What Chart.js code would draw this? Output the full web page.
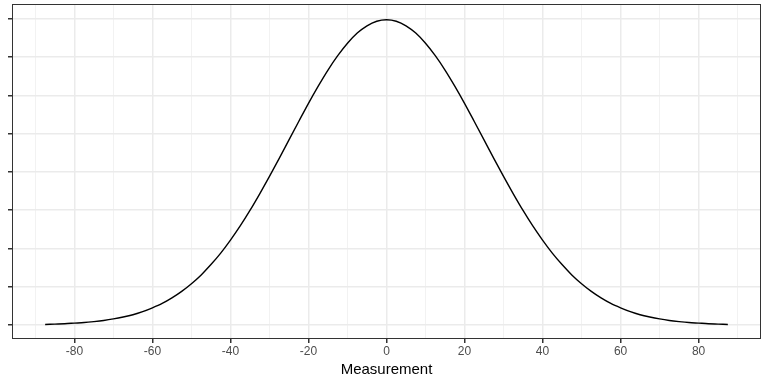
<!DOCTYPE html>
<html>
<head>
<meta charset="utf-8">
<script src="https://cdn.jsdelivr.net/npm/chart.js@4/dist/chart.umd.min.js"></script>
<style>
  html, body { margin: 0; padding: 0; background: #fff; }
  #wrap { width: 769px; height: 381px; }
</style>
</head>
<body>
<div id="wrap"><canvas id="chart" width="769" height="381"></canvas></div>
<script>
const xValues = [-87.5, -85, -82.5, -80, -77.5, -75, -72.5, -70, -67.5, -65, -62.5, -60,
  -57.5, -55, -52.5, -50, -47.5, -45, -42.5, -40, -37.5, -35, -32.5, -30, -27.5, -25,
  -22.5, -20, -17.5, -15, -12.5, -10, -7.5, -5, -2.5, 0, 2.5, 5, 7.5, 10, 12.5, 15,
  17.5, 20, 22.5, 25, 27.5, 30, 32.5, 35, 37.5, 40, 42.5, 45, 47.5, 50, 52.5, 55,
  57.5, 60, 62.5, 65, 67.5, 70, 72.5, 75, 77.5, 80, 82.5, 85, 87.5];
const density = [0.03, 0.05, 0.07, 0.10, 0.13, 0.18, 0.24, 0.32, 0.42, 0.54, 0.70, 0.90,
  1.13, 1.42, 1.76, 2.16, 2.62, 3.16, 3.76, 4.44, 5.18, 5.99, 6.86, 7.77, 8.71, 9.68,
  10.64, 11.59, 12.49, 13.33, 14.08, 14.73, 15.26, 15.64, 15.88, 15.96, 15.88, 15.64, 15.26, 14.73, 14.08, 13.33,
  12.49, 11.59, 10.64, 9.68, 8.71, 7.77, 6.86, 5.99, 5.18, 4.44, 3.76, 3.16, 2.62, 2.16, 1.76, 1.42,
  1.13, 0.90, 0.70, 0.54, 0.42, 0.32, 0.24, 0.18, 0.13, 0.10, 0.07, 0.05, 0.03];

// gridline positions; on x the labelled ones are the majors
const xTicks = [-90, -80, -70, -60, -50, -40, -30, -20, -10, 0, 10, 20, 30, 40, 50, 60, 70, 80, 90];
const yTicks = [0, 2, 4, 6, 8, 10, 12, 14, 16];
const xTitle = 'Measurement';

const isMajorX = v => v % 20 === 0;

// panel border like theme_bw
const panelBorder = {
    id: 'panelBorder',
    afterDraw(chart) {
        const { ctx, chartArea: a } = chart;
        ctx.save();
        ctx.strokeStyle = '#333333';
        ctx.lineWidth = 1;
        ctx.strokeRect(Math.round(a.left) + 0.5, Math.round(a.top) + 0.5,
            Math.round(a.right - a.left) - 1, Math.round(a.bottom - a.top) - 1);
        ctx.restore();
    }
};

const font = "'Liberation Sans', Arial, sans-serif";

new Chart(document.getElementById('chart'), {
    type: 'line',
    data: {
        datasets: [{
            data: xValues.map((x, i) => ({ x, y: density[i] })),
            borderColor: '#000000',
            borderWidth: 1.4,
            pointRadius: 0,
            fill: false,
            cubicInterpolationMode: 'monotone'
        }]
    },
    options: {
        responsive: false,
        animation: false,
        layout: { padding: { top: 4, right: 8, left: 0, bottom: 0 } },
        plugins: { legend: { display: false }, tooltip: { enabled: false } },
        scales: {
            x: {
                type: 'linear',
                min: -96,
                max: 96,
                afterBuildTicks: s => { s.ticks = xTicks.map(v => ({ value: v })); },
                afterFit: s => { s.height = 42; },
                border: { display: false },
                grid: {
                    color: c => isMajorX(c.tick.value) ? '#EBEBEB' : '#F2F2F2',
                    lineWidth: c => isMajorX(c.tick.value) ? 1.5 : 1,
                    tickColor: c => isMajorX(c.tick.value) ? '#333333' : 'rgba(0,0,0,0)',
                    tickLength: 4
                },
                ticks: {
                    autoSkip: false,
                    maxRotation: 0,
                    padding: 1,
                    color: '#4D4D4D',
                    font: { family: font, size: 12 },
                    callback: v => isMajorX(v) ? String(v) : ''
                },
                title: {
                    display: true,
                    text: xTitle,
                    color: '#000000',
                    font: { family: font, size: 15 },
                    padding: { top: 1, bottom: 2 }
                }
            },
            y: {
                min: -0.73,
                max: 16.78,
                afterBuildTicks: s => { s.ticks = yTicks.map(v => ({ value: v })); },
                afterFit: s => { s.width = 12; },
                border: { display: false },
                grid: {
                    color: '#EBEBEB',
                    lineWidth: 1.5,
                    tickColor: '#333333',
                    tickLength: 4
                },
                ticks: { display: false }
            }
        }
    },
    plugins: [panelBorder]
});
</script>
</body>
</html>
